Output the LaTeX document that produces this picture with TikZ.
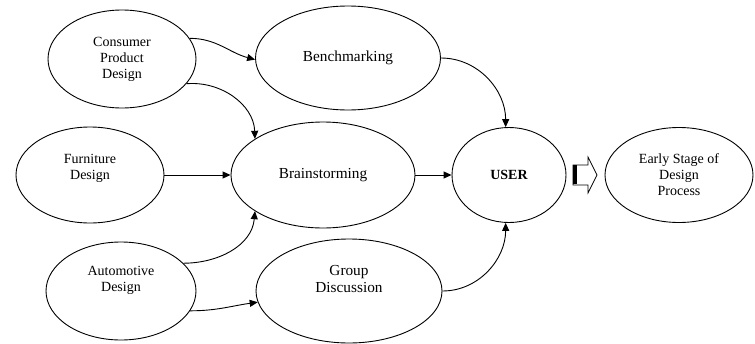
\documentclass[tikz,border=0pt]{standalone}
\usepackage{fontspec}
\setmainfont{Liberation Serif}
\usetikzlibrary{shapes.geometric,arrows.meta}
\tikzset{
  ell/.style={draw,ellipse,line width=0.9pt,inner sep=0pt,align=center},
  smalltxt/.style={font=\fontsize{14}{16}\selectfont,align=center},
  bigtxt/.style={font=\fontsize{15.3}{17}\selectfont,align=center},
  conn/.style={line width=0.9pt,-{Triangle[length=8pt,width=7pt]}}
}
\begin{document}
\begin{tikzpicture}[x=1pt,y=-1pt]
\useasboundingbox (0,0) rectangle (755,343);
% nodes
\node[ell,smalltxt,minimum width=148pt,minimum height=98pt] (cpd) at (122,59) {Consumer\\Product\\Design};
\node[ell,bigtxt,minimum width=185pt,minimum height=104pt] (bench) at (348,58) {Benchmarking};
\node[ell,minimum width=148pt,minimum height=96pt,
  label={[name=fdtext,smalltxt,yshift=7pt]center:Furniture\\Design}] (fd) at (90,175) {};
\node[ell,bigtxt,minimum width=184pt,minimum height=106pt] (bs) at (323,175) {Brainstorming};
\node[ell,font=\fontsize{14}{16}\selectfont\bfseries,minimum width=114pt,minimum height=95pt] (user) at (509,175) {USER};
\node[ell,smalltxt,minimum width=148pt,minimum height=95pt] (early) at (679,175) {Early Stage of\\Design\\Process};
\node[ell,minimum width=150pt,minimum height=98pt,
  label={[name=adtext,smalltxt,yshift=11pt]center:Automotive\\Design}] (ad) at (121,291) {};
\node[ell,minimum width=186pt,minimum height=104pt,
  label={[name=gdtext,bigtxt,yshift=12pt]center:Group\\Discussion}] (gd) at (349,291) {};
% connectors
\draw[conn] (cpd.17) to[out=0,in=165] (bench.181);
\draw[conn] (cpd.-21) to[out=5,in=92] (bs.152);
\draw[conn] (fd.east) -- (bs.west);
\draw[conn] (bench.east) to[out=0,in=90] (user.94);
\draw[conn] (bs.east) -- (user.west);
\draw[conn] (gd.east) to[out=0,in=-90] (user.-94);
\draw[conn] (ad.24) to[out=0,in=-95] (bs.208);
\draw[conn] (ad.-16) to[out=0,in=188] (gd.187);
% block arrow
\coordinate (ba) at (573,165);
\draw[line width=0.7pt] (ba) -- ++(15,0) -- ++(0,-8) -- ++(9,18) -- ++(-9,18) -- ++(0,-8) -- ++(-15,0) -- cycle;
\fill (ba) rectangle ++(3.5,19);
\end{tikzpicture}
\end{document}
